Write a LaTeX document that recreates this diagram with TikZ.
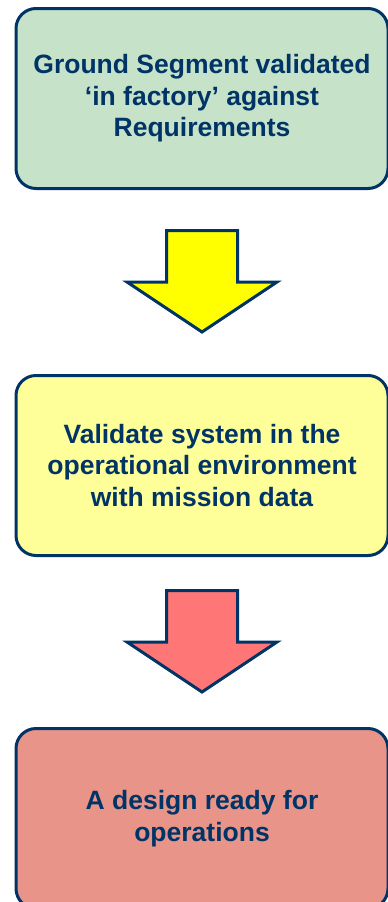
\documentclass[tikz,border=0pt]{standalone}
\usepackage{fontspec}
\setmainfont{Liberation Sans}
\usetikzlibrary{positioning,calc}

\definecolor{navy}{HTML}{003366}
\definecolor{stagegreen}{HTML}{C6E2C8}
\definecolor{stageyellow}{HTML}{FFFF99}
\definecolor{stagered}{HTML}{E89489}
\definecolor{arrowyellow}{HTML}{FFFF00}
\definecolor{arrowred}{HTML}{FF7676}

\tikzset{
  stage/.style={draw=navy, line width=3pt, rounded corners=20pt,
    minimum width=372pt, minimum height=180pt, inner sep=0pt,
    align=center, text=navy, font=\fontsize{26.5}{31.5}\selectfont\bfseries},
  blockarrow/.style={draw=navy, line width=3pt, line join=miter}
}

% block arrow centred between two stages
\newcommand{\flowarrow}[3]{%
  \draw[blockarrow, fill=#3] ($(#1.south)!0.5!(#2.north)$)
    ++(-35.5,51.5) -- ++(0,-51.5) -- ++(-39.5,0) -- ++(75,-50)
    -- ++(75,50) -- ++(-39.5,0) -- ++(0,51.5) -- cycle;}

\begin{document}
\begin{tikzpicture}[x=1pt,y=1pt]
\useasboundingbox (0,0) rectangle (388,-902);
\node[stage, fill=stagegreen] (factory) at (202,-98.5)
  {Ground Segment validated\\ `in factory' against\\ Requirements};
\node[stage, fill=stageyellow, below=184pt of factory] (operational)
  {Validate system in the\\ operational environment\\ with mission data};
\node[stage, fill=stagered, below=170pt of operational] (ready)
  {A design ready for\\ operations};
\flowarrow{factory}{operational}{arrowyellow}
\flowarrow{operational}{ready}{arrowred}
\end{tikzpicture}
\end{document}
